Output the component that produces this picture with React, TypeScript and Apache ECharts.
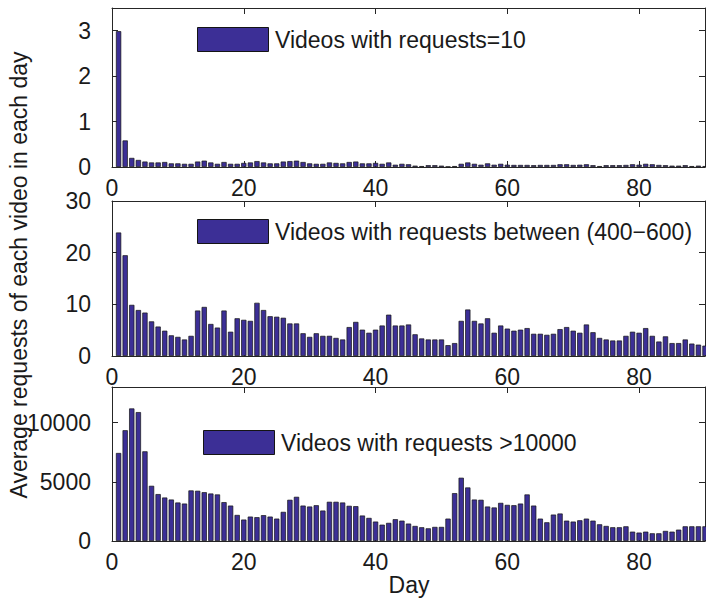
import React, { useEffect, useRef } from "react";
import * as echarts from "echarts";

// Average daily requests per video, days 1..90, for three popularity groups.
const days: number[] = Array.from({ length: 90 }, (_, i) => i + 1);

const requestsEq10: number[] = [
  2.99, 0.585, 0.2, 0.155, 0.12, 0.1, 0.1, 0.11, 0.08, 0.08,
  0.07, 0.07, 0.12, 0.14, 0.1, 0.07, 0.11, 0.07, 0.07, 0.09,
  0.1, 0.13, 0.1, 0.08, 0.08, 0.12, 0.13, 0.14, 0.11, 0.08,
  0.07, 0.07, 0.1, 0.09, 0.08, 0.11, 0.12, 0.08, 0.08, 0.09,
  0.07, 0.1, 0.05, 0.07, 0.06, 0.03, 0.02, 0.04, 0.04, 0.03,
  0.01, 0.02, 0.07, 0.1, 0.07, 0.05, 0.08, 0.05, 0.07, 0.05,
  0.045, 0.045, 0.045, 0.04, 0.045, 0.045, 0.045, 0.06, 0.06, 0.045,
  0.05, 0.06, 0.04, 0.02, 0.04, 0.04, 0.04, 0.045, 0.06, 0.05,
  0.07, 0.06, 0.045, 0.04, 0.03, 0.03, 0.04, 0.02, 0.03, 0.02,
];

const requests400to600: number[] = [
  23.9, 19.5, 9.9, 8.9, 8.4, 6.7, 5.7, 4.9, 4.0, 3.7,
  3.2, 3.9, 8.8, 9.5, 6.2, 5.5, 8.8, 4.7, 7.3, 7.0,
  6.8, 10.3, 8.9, 7.7, 7.6, 7.4, 6.3, 6.3, 4.4, 3.7,
  4.4, 3.9, 3.9, 3.5, 3.2, 5.6, 6.6, 5.1, 4.5, 5.1,
  5.9, 8.0, 5.9, 5.9, 6.1, 4.2, 3.4, 3.2, 3.2, 3.2,
  2.1, 2.5, 6.8, 9.0, 6.8, 6.3, 7.3, 4.5, 5.9, 5.3,
  4.9, 5.1, 5.4, 4.3, 4.3, 4.1, 4.3, 5.2, 5.6, 4.9,
  4.5, 6.1, 4.6, 3.5, 3.2, 3.0, 3.0, 3.9, 4.7, 4.5,
  5.4, 3.9, 2.8, 3.8, 2.5, 2.5, 3.2, 2.4, 2.2, 2.0,
];

const requestsOver10000: number[] = [
  7430, 9350, 11190, 10880, 7570, 4660, 3960, 3670, 3500, 3250,
  3160, 4270, 4240, 4120, 4010, 3930, 3280, 2990, 2200, 1810,
  2060, 2010, 2180, 2060, 1890, 2460, 3480, 3730, 2990, 2910,
  3020, 2570, 3310, 3310, 3250, 2970, 2940, 2150, 1950, 1640,
  1380, 1530, 1840, 1720, 1470, 1270, 1160, 1070, 1190, 1190,
  1890, 4040, 5340, 4520, 3500, 3480, 2910, 2830, 3220, 3050,
  3020, 3160, 3930, 2990, 1890, 1580, 2230, 2320, 1720, 1640,
  1750, 1890, 1720, 1410, 1270, 1160, 1160, 1240, 790, 710,
  790, 650, 650, 850, 790, 960, 1240, 1240, 1240, 1240,
];

const seriesNames: string[] = [
  "Videos with requests=10",
  "Videos with requests between (400\u2212600)",
  "Videos with requests >10000",
];
const seriesValues: number[][] = [requestsEq10, requests400to600, requestsOver10000];

const xMax = 90;
const xStep = 20;
const yMaxes: number[] = [3.5, 30, 13000];
const ySteps: number[] = [1, 10, 5000];

const yTitle = "Average requests of each video in each day";
const xTitle = "Day";

const FONT = "'Liberation Sans', Arial, Helvetica, sans-serif";
const TEXT = "#1a1a1a";
const AXIS = "#262626";
const BAR = "#3c2f96";
const EDGE = "#141414";

const PLOT_LEFT = 112;
const PLOT_WIDTH = 593;
const grids = [
  { top: 8, height: 159 },
  { top: 201, height: 155 },
  { top: 387, height: 154 },
];
const legendPos = [
  { x: 197, y: 27 },
  { x: 197, y: 219 },
  { x: 203, y: 430 },
];

export default function App() {
  const ref = useRef<HTMLDivElement>(null);

  useEffect(() => {
    if (!ref.current) return;
    const chart = echarts.init(ref.current, null, { renderer: "svg" });
    const barWidth = (PLOT_WIDTH / xMax) * 0.8;
    const plain = (v: number) => String(v);

    const xAxes: any[] = [];
    const yAxes: any[] = [];
    const series: any[] = [];
    const graphics: any[] = [];

    grids.forEach((_, i) => {
      const lineStyle = { color: AXIS, width: 1 };
      xAxes.push({
        type: "value",
        gridIndex: i,
        position: "bottom",
        min: 0,
        max: xMax,
        interval: xStep,
        axisLine: { show: true, onZero: false, lineStyle },
        axisTick: { show: true, inside: true, length: 6, lineStyle },
        axisLabel: {
          show: true,
          margin: 9,
          showMaxLabel: false,
          formatter: plain,
          fontSize: 23,
          fontFamily: FONT,
          color: TEXT,
        },
        splitLine: { show: false },
      });
      xAxes.push({
        type: "value",
        gridIndex: i,
        position: "top",
        min: 0,
        max: xMax,
        interval: xStep,
        axisLine: { show: true, onZero: false, lineStyle },
        axisTick: { show: true, inside: true, length: 6, lineStyle },
        axisLabel: { show: false },
        splitLine: { show: false },
      });
      yAxes.push({
        type: "value",
        gridIndex: i,
        position: "left",
        min: 0,
        max: yMaxes[i],
        interval: ySteps[i],
        axisLine: { show: true, onZero: false, lineStyle },
        axisTick: { show: true, inside: true, length: 6, lineStyle },
        axisLabel: {
          show: true,
          margin: 21,
          showMaxLabel: yMaxes[i] % ySteps[i] === 0,
          formatter: plain,
          fontSize: 23,
          fontFamily: FONT,
          color: TEXT,
        },
        splitLine: { show: false },
      });
      yAxes.push({
        type: "value",
        gridIndex: i,
        position: "right",
        min: 0,
        max: yMaxes[i],
        interval: ySteps[i],
        axisLine: { show: true, onZero: false, lineStyle },
        axisTick: { show: true, inside: true, length: 6, lineStyle },
        axisLabel: { show: false },
        splitLine: { show: false },
      });
      series.push({
        type: "bar",
        name: seriesNames[i],
        xAxisIndex: i * 2,
        yAxisIndex: i * 2,
        barWidth,
        clip: true,
        itemStyle: { color: BAR, borderColor: EDGE, borderWidth: 0.7 },
        data: days.map((d, k) => [d, seriesValues[i][k]]),
      });

      const lp = legendPos[i];
      graphics.push({
        type: "rect",
        left: lp.x,
        top: lp.y,
        shape: { x: 0, y: 0, width: 71, height: 24 },
        style: { fill: BAR, stroke: EDGE, lineWidth: 1 },
      });
      graphics.push({
        type: "text",
        x: lp.x + 78,
        y: lp.y + 13,
        style: {
          text: seriesNames[i],
          fontSize: 23,
          fontFamily: FONT,
          fill: TEXT,
          textAlign: "left",
          textVerticalAlign: "middle",
        },
      });
    });

    graphics.push({
      type: "text",
      x: 19,
      y: 275,
      rotation: Math.PI / 2,
      style: {
        text: yTitle,
        fontSize: 23,
        fontFamily: FONT,
        fill: TEXT,
        textAlign: "center",
        textVerticalAlign: "middle",
      },
    });
    graphics.push({
      type: "text",
      x: 409,
      y: 585,
      style: {
        text: xTitle,
        fontSize: 23,
        fontFamily: FONT,
        fill: TEXT,
        textAlign: "center",
        textVerticalAlign: "middle",
      },
    });

    chart.setOption({
      animation: false,
      backgroundColor: "#ffffff",
      grid: grids.map((g) => ({
        left: PLOT_LEFT,
        width: PLOT_WIDTH,
        top: g.top,
        height: g.height,
        containLabel: false,
      })),
      xAxis: xAxes,
      yAxis: yAxes,
      series,
      graphic: graphics,
    });

    return () => chart.dispose();
  }, []);

  return (
    <div
      ref={ref}
      style={{ position: "absolute", left: 0, top: 0, width: 706, height: 600 }}
    />
  );
}
